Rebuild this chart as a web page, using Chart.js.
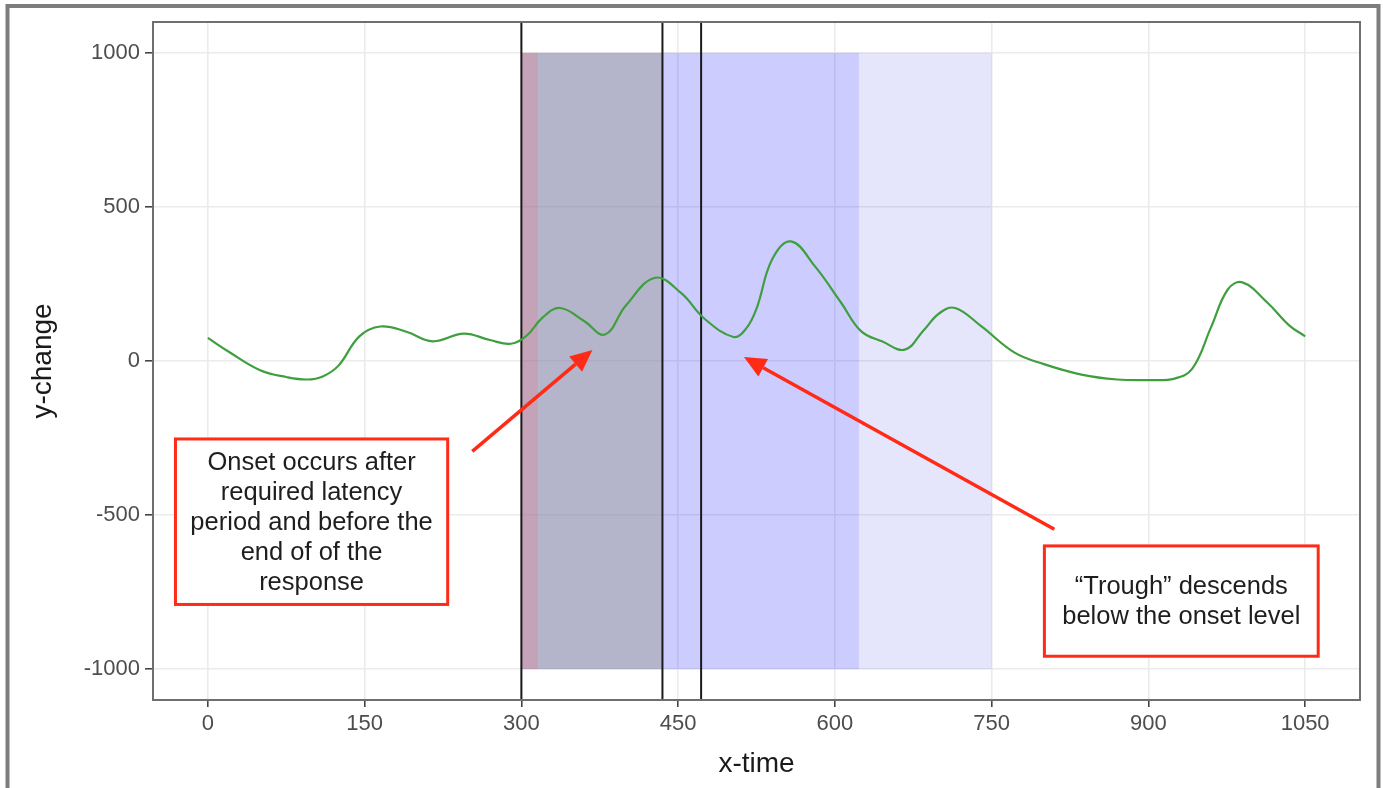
<!DOCTYPE html>
<html>
<head>
<meta charset="utf-8">
<title>y-change over x-time</title>
<script src="https://cdn.jsdelivr.net/npm/chart.js@4.4.1/dist/chart.umd.min.js"></script>
<style>
  html, body { margin: 0; padding: 0; background: #fff; }
</style>
</head>
<body>
<canvas id="graph" width="1383" height="788"></canvas>
<script>
// trace samples (time, change)
const timeX = [0, 20, 50, 75, 95, 110, 125, 145, 165, 190, 215, 245, 270, 290,
  305, 320, 337, 360, 380, 400, 428, 453, 475, 503, 515, 525, 540, 558,
  581, 606, 625, 645, 667, 685, 700, 715, 740, 772, 800, 836, 870, 900, 925,
  942, 960, 976, 990, 1014, 1035, 1050];
const changeY = [75, 30, -30, -52, -60, -50, -15, 80, 112, 95, 64, 89, 68, 56,
  82, 140, 172, 130, 86, 180, 270, 220, 138, 78, 105, 170, 330, 388,
  307, 189, 97, 64, 37, 100, 155, 172, 113, 27, -10, -44, -60, -62, -57,
  -25, 110, 232, 255, 189, 115, 80];

// axis breaks
const xTicks = [0, 75, 150, 225, 300, 375, 450, 525, 600, 675, 750, 825, 900, 975, 1050];
const xLabels = [0, 150, 300, 450, 600, 750, 900, 1050];
const yTicks = [-1000, -750, -500, -250, 0, 250, 500, 750, 1000];
const yLabels = [-1000, -500, 0, 500, 1000];

// shaded windows and marker lines
const windowStart = [300, 316, 435, 623];
const windowEnd = [316, 435, 623, 750];
const windowLow = -1000;
const windowHigh = 1000;
const markerX = [300, 435, 472];

const windowFill = [
  "rgba(157, 100, 137, 0.6)",
  "rgba(130, 132, 167, 0.6)",
  "rgba(0, 0, 255, 0.2)",
  "rgba(0, 0, 230, 0.1)",
];

const red = "#ff2b17";
const labelFont = '"Liberation Sans", Arial, sans-serif';

// callouts, in data units
const notes = [
  {
    box: [-31, 229.5, -253, -790],
    lines: ["Onset occurs after", "required latency", "period and before the", "end of of the", "response"],
    arrow: [253, -293, 368, 36],
  },
  {
    box: [800.5, 1062.5, -600, -958],
    lines: ["\u201cTrough\u201d descends", "below the onset level"],
    arrow: [810, -546, 513, 13],
  },
];

function drawArrow(ctx, x1, y1, x2, y2) {
  const ang = Math.atan2(y2 - y1, x2 - x1);
  const head = 22;
  const half = 10;
  const bx = x2 - head * Math.cos(ang);
  const by = y2 - head * Math.sin(ang);
  ctx.strokeStyle = red;
  ctx.fillStyle = red;
  ctx.lineWidth = 3.5;
  ctx.beginPath();
  ctx.moveTo(x1, y1);
  ctx.lineTo(bx, by);
  ctx.stroke();
  ctx.beginPath();
  ctx.moveTo(x2, y2);
  ctx.lineTo(bx + half * Math.sin(ang), by - half * Math.cos(ang));
  ctx.lineTo(bx - half * Math.sin(ang), by + half * Math.cos(ang));
  ctx.closePath();
  ctx.fill();
}

const overlays = {
  id: "overlays",
  beforeDraw(chart) {
    const ctx = chart.ctx;
    ctx.save();
    ctx.fillStyle = "#fff";
    ctx.fillRect(0, 0, chart.width, chart.height);
    // outer frame
    ctx.strokeStyle = "#7d7d7d";
    ctx.lineWidth = 4;
    ctx.beginPath();
    ctx.moveTo(7.5, chart.height);
    ctx.lineTo(7.5, 6);
    ctx.lineTo(1378.5, 6);
    ctx.lineTo(1378.5, chart.height);
    ctx.stroke();
    ctx.restore();
  },
  beforeDatasetsDraw(chart) {
    const { ctx, chartArea: a, scales: { x, y } } = chart;
    ctx.save();
    const top = y.getPixelForValue(windowHigh);
    const bottom = y.getPixelForValue(windowLow);
    windowStart.forEach((s, i) => {
      const l = x.getPixelForValue(s);
      const r = x.getPixelForValue(windowEnd[i]);
      ctx.fillStyle = windowFill[i];
      ctx.fillRect(l, top, r - l, bottom - top);
    });
    ctx.strokeStyle = "#1a1a1a";
    ctx.lineWidth = 2;
    markerX.forEach(v => {
      const px = x.getPixelForValue(v);
      ctx.beginPath();
      ctx.moveTo(px, a.top);
      ctx.lineTo(px, a.bottom);
      ctx.stroke();
    });
    ctx.restore();
  },
  afterDatasetsDraw(chart) {
    const { ctx, chartArea: a, scales: { x, y } } = chart;
    ctx.save();
    // panel border
    ctx.strokeStyle = "#6f6f6f";
    ctx.lineWidth = 2;
    ctx.strokeRect(a.left, a.top, a.right - a.left, a.bottom - a.top);

    notes.forEach(n => {
      const [ax1, ay1, ax2, ay2] = n.arrow;
      drawArrow(ctx, x.getPixelForValue(ax1), y.getPixelForValue(ay1),
        x.getPixelForValue(ax2), y.getPixelForValue(ay2));

      const l = x.getPixelForValue(n.box[0]);
      const r = x.getPixelForValue(n.box[1]);
      const t = y.getPixelForValue(n.box[2]);
      const b = y.getPixelForValue(n.box[3]);
      ctx.fillStyle = "#fff";
      ctx.fillRect(l, t, r - l, b - t);
      ctx.strokeStyle = red;
      ctx.lineWidth = 3;
      ctx.strokeRect(l, t, r - l, b - t);

      ctx.fillStyle = "#1e1e1e";
      ctx.font = "25.5px " + labelFont;
      ctx.textAlign = "center";
      ctx.textBaseline = "middle";
      const step = 30;
      const cy = (t + b) / 2 - step * (n.lines.length - 1) / 2 + 1;
      n.lines.forEach((line, i) => ctx.fillText(line, (l + r) / 2, cy + i * step));
    });
    ctx.restore();
  },
};

const points = timeX.map((t, i) => ({ x: t, y: changeY[i] }));

new Chart(document.getElementById("graph"), {
  type: "line",
  data: {
    datasets: [
      {
        data: points,
        borderColor: "#3f9f3f",
        borderWidth: 2.2,
        pointRadius: 0,
        tension: 0.4,
        fill: false,
      },
    ],
  },
  options: {
    responsive: false,
    animation: false,
    events: [],
    layout: { padding: { left: 0, right: 23, top: 22, bottom: 0 } },
    plugins: { legend: { display: false }, tooltip: { enabled: false } },
    scales: {
      x: {
        type: "linear",
        min: -52.5,
        max: 1102.5,
        afterBuildTicks: s => { s.ticks = xTicks.map(v => ({ value: v })); },
        afterFit: s => { s.height = 88; },
        border: { display: false },
        grid: {
          color: c => (xLabels.includes(c.tick.value) ? "#ebebeb" : "#f4f4f4"),
          lineWidth: c => (xLabels.includes(c.tick.value) ? 1.6 : 0.9),
          tickColor: c => (xLabels.includes(c.tick.value) ? "#444" : "rgba(0,0,0,0)"),
          tickLength: 7,
          tickWidth: 1.6,
        },
        ticks: {
          autoSkip: false,
          maxRotation: 0,
          padding: 4,
          color: "#4d4d4d",
          font: { family: labelFont, size: 22 },
          callback: v => (xLabels.includes(v) ? String(v) : null),
        },
        title: {
          display: true,
          text: "x-time",
          color: "#1a1a1a",
          font: { family: labelFont, size: 28 },
          padding: { top: 0, bottom: 7 },
        },
      },
      y: {
        min: -1100,
        max: 1100,
        afterBuildTicks: s => { s.ticks = yTicks.map(v => ({ value: v })); },
        afterFit: s => { s.width = 153; },
        border: { display: false },
        grid: {
          color: c => (yLabels.includes(c.tick.value) ? "#ebebeb" : "#f4f4f4"),
          lineWidth: c => (yLabels.includes(c.tick.value) ? 1.6 : 0.9),
          tickColor: c => (yLabels.includes(c.tick.value) ? "#444" : "rgba(0,0,0,0)"),
          tickLength: 8,
          tickWidth: 1.6,
        },
        ticks: {
          autoSkip: false,
          padding: 5,
          color: "#4d4d4d",
          font: { family: labelFont, size: 22 },
          callback: v => (yLabels.includes(v) ? String(v) : null),
        },
        title: {
          display: true,
          text: "y-change",
          color: "#1a1a1a",
          font: { family: labelFont, size: 28 },
          padding: { top: 26, bottom: 0 },
        },
      },
    },
  },
  plugins: [overlays],
});
</script>
</body>
</html>
